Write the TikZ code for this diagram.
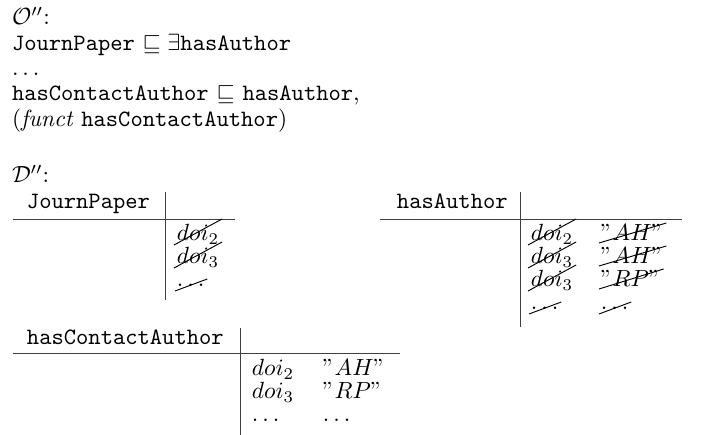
\documentclass[tikz,border=0pt]{standalone}
\usepackage{amssymb}
\usetikzlibrary{calc}
\begin{document}
\begin{tikzpicture}[x=0.427pt,y=-0.427pt,
  txt/.style={anchor=base west,inner sep=0pt,outer sep=0pt},
  rulel/.style={line width=0.4pt,draw=black!75},
  strike/.style={line width=0.4pt}]
\useasboundingbox (0,0) rectangle (702,435);
% ontology
\node[txt] (o) at (12,25) {$\mathcal{O}''$:};
\node[txt] (ax1) at (12,51) {\texttt{JournPaper} $\sqsubseteq \exists$\texttt{hasAuthor}};
\node[txt] (ax2) at (12,76) {$\dots$};
\node[txt] (ax3) at (12,101) {\texttt{hasContactAuthor} $\sqsubseteq$ \texttt{hasAuthor},};
\node[txt] (ax4) at (12,127) {(\textit{funct} \texttt{hasContactAuthor})};
\node[txt] (d) at (12,183) {$\mathcal{D}''$:};
% table JournPaper
\node[txt] (h1) at (27,209) {\texttt{JournPaper}};
\coordinate (v1t) at (165,192); \coordinate (v1b) at (165,300);
\coordinate (h1l) at (13,219); \coordinate (h1r) at (235,219);
\draw[rulel] (v1t) -- (v1b); \draw[rulel] (h1l) -- (h1r);
\node[txt] (a1) at (177,241) {$doi_2$};
\node[txt] (a2) at (177,264) {$doi_3$};
\node[txt] (a3) at (177,287) {$\dots$};
% table hasAuthor
\node[txt] (h2) at (397,209) {\texttt{hasAuthor}};
\coordinate (v2t) at (520,192); \coordinate (v2b) at (520,327);
\coordinate (h2l) at (380,219); \coordinate (h2r) at (682,219);
\draw[rulel] (v2t) -- (v2b); \draw[rulel] (h2l) -- (h2r);
\node[txt] (b1) at (531,241) {$doi_2$};
\node[txt] (b2) at (531,264) {$doi_3$};
\node[txt] (b3) at (531,287) {$doi_3$};
\node[txt] (b4) at (531,310) {$\dots$};
\node[txt] (c1) at (601,241) {$"AH"$};
\node[txt] (c2) at (601,264) {$"AH"$};
\node[txt] (c3) at (601,287) {$"RP"$};
\node[txt] (c4) at (601,310) {$\dots$};
% table hasContactAuthor
\node[txt] (h3) at (27,345) {\texttt{hasContactAuthor}};
\coordinate (v3t) at (240,328); \coordinate (v3b) at (240,435);
\coordinate (h3l) at (13,353); \coordinate (h3r) at (400,353);
\draw[rulel] (v3t) -- (v3b); \draw[rulel] (h3l) -- (h3r);
\node[txt] (e1) at (252,376) {$doi_2$};
\node[txt] (e2) at (252,399) {$doi_3$};
\node[txt] (e3) at (252,422) {$\dots$};
\node[txt] (f1) at (323,376) {$"AH"$};
\node[txt] (f2) at (323,399) {$"RP"$};
\node[txt] (f3) at (323,422) {$\dots$};
% strike-outs
\foreach \n in {a1,a2,b1,b2,b3}
  \draw[strike] ($(\n.base west)+(-3,4)$) -- ($(\n.base east)+(3,-22)$);
\foreach \n in {c1,c2,c3}
  \draw[strike] ($(\n.base west)+(-2,2)$) -- ($(\n.base east)+(3,-18)$);
\foreach \n in {a3,b4,c4}
  \draw[strike] ($(\n.base west)+(-2,4)$) -- ($(\n.base east)+(3,-8)$);
\end{tikzpicture}
\end{document}
